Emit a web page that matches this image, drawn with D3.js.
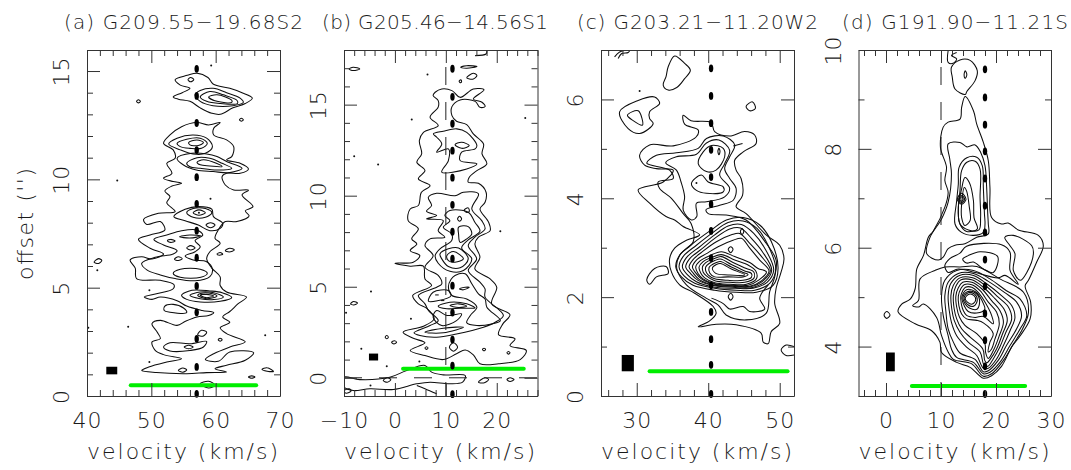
<!DOCTYPE html>
<html>
<head>
<meta charset="utf-8">
<script src="https://cdnjs.cloudflare.com/ajax/libs/d3/7.8.5/d3.min.js"></script>
<style>
  html, body { margin: 0; padding: 0; background: #fff; }
  svg { display: block; }
  text { font-family: "DejaVu Sans", sans-serif; font-weight: 200; fill: #1a1a1a; }
  .axis path, .axis line { stroke: #333; stroke-width: 1; }
  .contour { fill: none; stroke: #0d0d0d; stroke-width: 1.05; }
</style>
</head>
<body>
<div id="chart-area"></div>
<script>
// values: velocity (km/s), offset ('')
var titles = ['(a) G209.55\u221219.68S2', '(b) G205.46\u221214.56S1', '(c) G203.21\u221211.20W2', '(d) G191.90\u221211.21S'];
var xDomains = [[40, 70], [-10, 28], [25, 52], [-5, 30]];
var yDomains = [[0, 15.97], [-1, 18], [0, 7], [3, 10]];
var xMajor = [[40, 50, 60, 70], [-10, 0, 10, 20], [30, 40, 50], [0, 10, 20, 30]];
var xMinor = [
    [42, 44, 46, 48, 52, 54, 56, 58, 62, 64, 66, 68],
    [-8, -6, -4, -2, 2, 4, 6, 8, 12, 14, 16, 18, 22, 24, 26, 28],
    [26, 28, 32, 34, 36, 38, 42, 44, 46, 48, 52],
    [-4, -2, 2, 4, 6, 8, 12, 14, 16, 18, 22, 24, 26, 28]
];
var yMajor = [[0, 5, 10, 15], [0, 5, 10, 15], [0, 2, 4, 6], [4, 6, 8, 10]];
var yMinor = [
    [1, 2, 3, 4, 6, 7, 8, 9, 11, 12, 13, 14],
    [-1, 1, 2, 3, 4, 6, 7, 8, 9, 11, 12, 13, 14, 16, 17, 18],
    [1, 3, 5, 7],
    [3, 5, 7, 9]
];
// systemic velocity and the offsets of its heavy dashes
var markerVel = [57.05, 11.3, 40.4, 18];
var markerOffsetsA = [15.1, 13.85, 12.6, 11.35, 10.1, 8.87, 7.63, 6.38, 5.08, 3.86, 2.64, 1.34, 0.1];
var markerOffsetsB = [16.97, 15.43, 13.95, 12.47, 10.99, 9.5, 8.02, 6.54, 5.06, 3.58, 2.1, 0.67, -0.9];
var markerOffsetsC = [6.63, 6.07, 5.52, 4.98, 4.43, 3.88, 3.34, 2.79, 2.24, 1.7, 1.15, 0.63, 0.04];
var markerOffsetsD = [9.61, 9.04, 8.49, 7.95, 7.4, 6.85, 6.31, 5.76, 5.22, 4.67, 4.13, 3.6, 3.04];
// beam box: v0, v1, o0, o1 / green bar: v0, v1, o
var beams = [[43, 44.7, 1, 1.35], [-5.1, -3.3, 0.95, 1.33], [27.9, 29.6, 0.5, 0.83], [0, 1.6, 3.5, 3.88]];
var greenBars = [[46.8, 66.3, 0.5], [1.6, 25.3, 0.5], [31.8, 51.1, 0.5], [4.7, 25.3, 3.2]];
var refVel = [null, 10, null, 10];
var refOffset = [null, 0, null, null];

var contoursA = [
    [[53.7,14.6],[55.6,14.8],[57.1,14.9],[58.8,14.7],[59.6,14.4],[62.2,14.2],[64.1,14],[65.7,13.75],[64.6,13.5],[62.7,13.3],[60.7,13],[59.4,13.05],[57.6,13.3],[56,13.6],[54.2,13.7],[53.4,13.8],[54.8,14],[56,14.2],[54.5,14.35]],
    [[56.8,13.9],[57.6,14.1],[59.6,14.2],[61.7,14],[63.8,13.75],[64.3,13.55],[62.7,13.4],[59.6,13.4],[57.6,13.6]],
    [[57.6,13.8],[59.1,14.05],[61.2,13.9],[63.3,13.65],[63.4,13.5],[60.7,13.5],[58.6,13.6]],
    [[58.9,13.8],[60.2,13.9],[62.5,13.65],[62.5,13.55],[60.2,13.6]],
    [[55.7,14.6],[56.1,14.7],[56.6,14.6],[56.1,14.5]],
    [[47.7,13.6],[48,13.67],[48.3,13.6],[48,13.53]],
    [[63.7,12.75],[64,12.82],[64.3,12.75],[64,12.68]],
    // main envelope
    [[51.9,11.66],[52.9,12.05],[54.7,12.43],[57.1,12.62],[58.9,12.51],[60.7,12.62],[59.7,12.36],[59.7,12.05],[61.7,11.82],[62.8,11.51],[62.5,11.05],[61.7,10.9],[63.8,10.74],[65.1,10.48],[63.8,10.28],[61.7,10.28],[61,10.13],[61.5,9.74],[62.8,9.51],[65.1,9.5],[64.1,9.28],[65.8,8.74],[64.6,8.55],[65.2,8.31],[63.3,8.05],[61.5,8.05],[60.4,7.66],[59.9,7.28],[60.7,7.05],[59.1,6.66],[58.6,6.35],[59.4,5.9],[60.7,5.5],[60.7,5.1],[61.7,4.8],[64.8,4.57],[63.5,4.26],[62.2,3.9],[61.1,3.65],[62.2,3.4],[60.7,3.15],[61.7,2.88],[64.6,2.5],[62.2,2.26],[59.7,1.95],[58.4,1.69],[60.4,1.6],[62.2,2.03],[65.9,2],[64.6,1.65],[61.7,1.42],[59.9,1.26],[61.7,1.11],[58.6,1.08],[55.5,1.03],[50.8,1.08],[48.5,1.18],[49.6,1.34],[52.4,1.57],[54.7,1.72],[51.9,1.91],[50.6,2.11],[50.1,2.49],[51.4,2.65],[50.9,2.95],[50.1,3.34],[51.4,3.49],[54,3.26],[55.3,3.45],[57.1,3.65],[58.9,3.72],[59.7,3.85],[57.9,3.95],[55.5,4.15],[54,4.4],[51.4,4.57],[50.1,4.46],[48.9,4.57],[50.8,4.72],[53.4,4.95],[53.5,5.15],[51.4,5.34],[47.7,5.42],[47.5,5.9],[46.7,6.28],[48.5,6.43],[50.1,6.32],[51.9,6.55],[49.8,6.82],[48,7.23],[49.8,7.43],[52.1,7.66],[51.4,8.05],[49.3,7.92],[48.8,8.15],[51.1,8.43],[53.7,8.51],[52.4,8.92],[52.9,9.2],[52.1,9.46],[53.2,9.69],[54.7,9.82],[53.4,9.9],[51.9,10.05],[53.2,10.28],[52.4,10.74],[53.7,10.97],[53.4,11.36]],
    [[52.7,11.63],[54,11.9],[56.5,12.05],[58.6,11.9],[59.5,11.51],[58.4,11.2],[56.5,11.17],[54.5,11.36]],
    [[54,11.66],[55.5,11.85],[57.6,11.9],[58.7,11.66],[57.8,11.43],[56,11.43],[54.5,11.51]],
    [[55.8,11.7],[57.1,11.82],[58.1,11.7],[57.3,11.56],[56,11.59]],
    [[54,10.97],[56.3,11.2],[58.6,11.17],[60.2,11.05],[61.7,10.82],[64.1,10.51],[62.2,10.31],[59.6,10.36],[57,10.43],[55,10.66]],
    [[55.5,10.74],[57.1,11],[59.1,10.97],[61,10.74],[62.5,10.51],[60.2,10.43],[57.6,10.51],[56,10.58]],
    [[57.1,10.79],[58.1,10.9],[60.1,10.74],[61,10.59],[59.1,10.62],[57.6,10.67]],
    [[53.5,8.28],[55.25,8.62],[57.3,8.74],[59.4,8.62],[59.65,8.28],[61.1,7.97],[60.7,7.74],[59.1,7.63],[57.3,7.89],[55.25,8.09]],
    [[55.5,8.46],[56.5,8.65],[58.4,8.65],[59.4,8.46],[58.4,8.25],[56.5,8.25]],
    [[56.5,8.46],[57.4,8.59],[58.4,8.46],[57.4,8.34]],
    [[58.5,7.89],[59.2,8],[59.9,7.89],[59.2,7.77]],
    [[50.4,7.23],[52.4,7.43],[54.7,7.63],[57.1,7.66],[58,7.43],[56.8,7.17],[57.6,6.89],[56.8,6.66],[55.25,6.46],[56.5,6.28],[58.6,6.2],[59.5,5.85],[59.1,5.51],[56.8,5.32],[53.7,5.42],[51.4,5.59],[49.3,5.82],[48.5,6.12],[50.6,6.4],[53.4,6.55],[54,6.71],[51.9,6.97]],
    [[54.4,7.35],[56,7.43],[57.7,7.39],[56,7.29]],
    [[52.5,7.17],[53,7.23],[53.7,7.15],[53,7.09]],
    [[55.5,6.83],[56.1,6.94],[56.8,6.83],[56.1,6.74]],
    [[53.6,6.31],[54.2,6.43],[54.8,6.34],[54.2,6.25]],
    [[53.4,5.66],[54.5,5.85],[57.6,5.85],[58.7,5.66],[57.7,5.48],[54.5,5.48]],
    [[60.2,6.55],[60.7,6.62],[61.1,6.55],[60.6,6.5]],
    [[61.5,6.71],[62.2,6.82],[62.9,6.74],[62.1,6.65]],
    [[54.7,4.65],[56.3,4.88],[59.1,4.85],[61,4.77],[62.5,4.54],[60.7,4.37],[57.6,4.34],[55.5,4.46]],
    [[56,4.65],[57.6,4.8],[59.7,4.77],[61.2,4.57],[59.7,4.45],[57.6,4.49]],
    [[57.2,4.65],[58.4,4.77],[60.2,4.62],[58.6,4.49]],
    [[57.6,4.65],[58.6,4.69],[59.7,4.62],[58.5,4.54]],
    [[52.1,4.15],[53.4,4.23],[55,4.06],[55.5,3.85],[52.9,3.87],[52,3.95]],
    [[51.9,2.26],[52.9,2.46],[56,2.41],[58.6,2.52],[58.1,2.26],[56,2.1],[52.9,2.08]],
    [[55.1,2.26],[55.8,2.34],[56.5,2.26],[55.8,2.18]],
    [[57.2,2.83],[57.8,3.03],[58.6,2.95],[58.1,2.77]],
    [[60.4,2.6],[60.7,2.67],[61,2.6],[60.7,2.53]],
    [[41.1,6.18],[41.8,6.34],[42.3,6.26],[41.8,6.12]],
    [[65.1,0.88],[65.6,0.93],[66.1,0.88],[65.6,0.82]],
    [[67.2,1.23],[68,1.3],[69,1.14],[68,1.14]],
    [[54.2,1.18],[54.9,1.29],[55.5,1.2],[54.9,1.1]],
    [[57.6,0.57],[58.9,0.68],[59.9,0.5],[58.9,0.37]]
];
var openA = [];
var specksA = [[59.3,15.25],[44.7,9.95],[59.2,9.1],[57.4,8.46],[41.6,5.8],[49.7,4.88],[49.7,1.57],[46.4,3.2],[40.2,3.15],[67.7,2.8]];

var contoursB = [
    [[7.9,15.68],[9.2,15.86],[11.2,15.77],[12.8,15.4],[15.4,15.86],[17.5,15.81],[15.4,15.31],[17.1,15.13],[17.7,14.89],[16.7,14.85],[15.75,15.18],[12.8,15.26],[11.2,14.89],[11.2,14.4],[12.1,14.09],[14.1,13.9],[15.4,13.39],[17.4,12.84],[17.1,12.3],[18.05,11.75],[16.1,11.38],[14.6,11.01],[14.4,10.74],[16.4,10.68],[17.9,10.19],[17.7,9.64],[16.7,9.27],[18.4,8.54],[18.7,8.08],[16.4,7.72],[15.7,7.35],[16.7,6.62],[15.7,5.98],[18.7,5.43],[20,4.97],[19,4.06],[22.6,3.46],[21.2,2.96],[20.35,2.36],[23.6,2.14],[22.6,1.77],[25.8,1.5],[24.6,1],[20.35,0.77],[16.7,0.77],[15.4,1.26],[13.8,1.53],[12.1,1.32],[9.5,1],[5.9,1.22],[3,1.5],[5.9,1.92],[3.6,2.17],[1.6,2.5],[5.6,2.83],[7.7,3.24],[6.2,3.82],[4.6,4.06],[3.5,4.52],[7.2,5.07],[5.9,5.43],[5.6,6.13],[3,6.13],[0,6.29],[3.6,6.35],[4.9,6.71],[3,6.99],[4.3,7.35],[3.3,7.63],[4.6,8.18],[2.6,8.63],[3,9.27],[4.6,9.46],[5.2,10.19],[6.9,10.55],[4.6,10.92],[5.9,11.38],[4.3,11.84],[5.25,12.3],[4.8,13.03],[5.6,13.48],[8.5,13.85],[6.9,14.31],[8.5,14.86],[8.5,15.22],[7.5,15.5]],
    [[7.55,13.39],[9.5,13.54],[12.15,13.67],[14.1,13.48],[16.1,12.75],[15.75,12.57],[13.1,12.39],[12.8,11.93],[16.1,11.75],[14.1,11.47],[9.2,11.29],[10.5,11.93],[10.5,12.57],[8.2,12.39],[9.2,12.84],[8.2,13.21]],
    [[11.8,12.8],[13.1,12.93],[14.6,12.75],[13.1,12.6]],
    [[14.1,16.47],[15.4,16.72],[16.1,16.6],[15.4,16.41]],
    [[12.6,16.28],[12.9,16.36],[13.1,16.28],[12.9,16.2]],
    [[12.9,17.05],[14.1,17.14],[16.1,17.09],[14.1,17]],
    [[-9,16.96],[-8.2,17.05],[-6.9,16.96],[-8.2,16.87]],
    [[6.56,9.91],[8.2,10.13],[11.8,10],[13.45,10.19],[16.4,10.1],[15.1,9.27],[17.05,8.63],[17.7,8.18],[15.7,7.72],[14.4,7.26],[16.05,6.53],[14.4,5.89],[16.7,5.25],[17.7,4.88],[17.7,4.43],[21.3,3.42],[19.7,3.05],[17.4,2.78],[12.1,2.41],[8.2,2.23],[4.9,2.32],[3.75,2.47],[6.9,2.87],[8.5,3.14],[6.6,3.69],[5.9,4.06],[4.6,4.52],[8.2,4.97],[9.2,5.16],[8.5,5.62],[5.9,6.07],[7.5,6.71],[5.9,7.26],[6.9,7.63],[9.8,7.72],[8.5,8.08],[9.5,8.63],[6.2,8.72],[8.2,8.91],[6.2,9.15],[7.2,9.46]],
    [[9.8,8.91],[10.8,9.18],[14.4,9.09],[15.7,8.54],[16.7,8.05],[14.4,7.57],[13.1,7.13],[15.1,6.53],[13.45,5.89],[10.8,5.85],[8.5,6.29],[7.9,6.71],[8.85,7.08],[11.15,7.54],[11.15,7.9],[9.5,8.27],[10.8,8.63]],
    [[8.85,6.8],[10.5,7.08],[12.5,7.13],[14.4,6.53],[12.8,6.04],[10.5,6.11],[9.2,6.53]],
    [[10.2,6.71],[11.5,6.93],[13.45,6.53],[11.8,6.35],[10.5,6.44]],
    [[12.5,8.27],[14.4,8.3],[15.1,7.9],[14.1,7.63],[12.8,7.44],[12.5,7.9]],
    [[12.3,8.72],[12.7,8.87],[13.1,8.72],[12.7,8.6]],
    [[13.6,9.22],[14.4,9.33],[14.6,9.13],[14,9.09]],
    [[11.8,5.62],[13.8,5.71],[15.1,5.16],[16.4,4.61],[17.7,4.33],[18.05,3.88],[20.7,3.14],[19,2.96],[16.1,2.87],[14.1,3.02],[14.8,3.42],[16.1,3.88],[14.1,4.33],[11.2,4.52],[10.5,5],[11,5.4]],
    [[5.9,2.5],[9.5,2.72],[13.5,2.78],[9.5,2.47]],
    [[6.6,4.2],[7.5,4.7],[10.5,4.79],[11,4.5],[8.5,4.24]],
    [[8.5,3.93],[10.8,4.15],[14.1,4.06],[15.75,3.84],[12.8,3.82],[10.2,3.79]],
    [[10.8,3.97],[12.5,4.06],[14.1,3.93],[12.5,3.86]],
    [[12.7,4.88],[13.8,4.97],[14.6,4.97],[13.45,4.83]],
    [[8.2,3.69],[10.2,3.42],[13.1,3.51],[12.1,3.14],[9.2,2.87],[7.5,3.33]],
    [[10.7,1.68],[11.5,1.92],[12.3,1.68],[11.5,1.46]],
    [[5.9,1.63],[6.2,1.7],[6.5,1.63],[6.2,1.56]],
    [[17.2,1.55],[17.5,1.62],[17.8,1.55],[17.5,1.48]],
    [[22,1.37],[22.3,1.44],[22.6,1.37],[22.3,1.3]],
    [[16.4,-0.24],[17.7,0],[18.4,-0.1],[17.4,-0.28]],
    [[22,-0.1],[22.6,0],[23.4,-0.1],[22.6,-0.2]],
    [[-2.3,-0.15],[-1.5,0],[-0.8,-0.1],[-1.5,-0.24]],
    [[-0.65,1.95],[-0.1,2.03],[0.33,1.95],[-0.2,1.86]],
    [[-1.9,2.23],[-1.6,2.32],[-1.3,2.23],[-1.6,2.14]],
    [[-8.7,4.06],[-8.1,4.19],[-7.35,4.1],[-8.1,4]],
    [[-10,0.03],[-6.9,-0.1],[-1,0.03],[2.3,0.4],[5.9,0.68],[7.2,0.31],[9.5,0.16],[13.8,0.13],[13.3,-0.24],[10.8,-0.33],[6.9,-0.24],[4.3,-0.33],[-0.3,-0.64],[-4.9,-0.6],[-8.2,-0.7],[-10,-0.5]],
    [[-10,-0.72],[-9,-0.6],[-8.6,-0.72],[-9.6,-0.85]]
];
var openB = [
    [[15.75,17.69],[17.9,17.78],[18.05,17.97]],
    [[4.3,-0.42],[5.9,-0.6],[8.2,-0.88]],
    [[7.9,4.55],[8.6,4.55]],
    [[9,4.24],[9.7,4.24]]
];
var specksB = [[6.4,16.65],[3.3,14.18],[-8,12.17],[-3.3,11.71],[25.6,14.27],[20.7,8.05],[-4.7,4.74],[-9.6,3.57],[3.15,3.24],[-6.6,1.59],[-1.6,0.64],[4.8,0.9],[-4.8,-0.42]];

var contoursC = [
    [[34.4,6.66],[35.3,6.88],[36.7,6.73],[37.5,6.59],[36.7,6.42],[35.6,6.24],[34.4,6.19],[33.7,6.29],[34.1,6.46]],
    [[27.6,5.75],[30.2,5.98],[32.5,6.05],[33.2,5.92],[31.8,5.75],[31.8,5.61],[32.3,5.51],[30.4,5.31],[28.8,5.41]],
    [[28.7,5.68],[30.2,5.77],[30.8,5.48],[29.5,5.57]],
    [[45.3,5.86],[46.2,5.95],[46.6,5.82],[45.8,5.77]],
    // outer envelope
    [[36.5,5.68],[37.6,5.57],[40.4,5.53],[40.9,5.35],[43,5.26],[45.1,5.35],[46.5,5.28],[46.7,5.11],[44.9,4.94],[43.7,4.77],[43.9,4.57],[44.6,4.4],[44.8,4.06],[43.9,3.83],[45.3,3.69],[48.1,3.26],[50,3.05],[50.6,2.78],[50.2,2.51],[49.5,2.18],[49.3,1.87],[50,1.47],[48.8,1.3],[48.4,1.06],[47.7,1.09],[47.4,1.27],[43.9,1.44],[41.1,1.45],[38.6,1.4],[40.2,1.52],[41.1,1.67],[40.7,1.81],[38.1,2.08],[36,2.25],[34.85,2.51],[34.6,2.78],[35.3,2.99],[36.95,3.15],[38.8,3.26],[36.5,3.43],[35.3,3.56],[34.1,3.63],[31.8,3.9],[30.2,4.17],[33.7,4.33],[35.1,4.57],[32.75,4.6],[31.1,4.67],[30.4,4.87],[31.8,5.08],[35.1,5.06],[38.3,5.24],[38.6,5.38],[36.7,5.5]],
    [[31.4,4.71],[32.75,4.87],[35.55,4.92],[38.6,5.01],[39.75,5.21],[42.1,5.26],[43.7,5.08],[43,4.84],[42.3,4.6],[43,4.4],[43.9,4.2],[43.5,3.96],[41.6,3.86],[39.7,3.77],[40,3.69],[42.5,3.66],[45.3,3.56],[48.1,3.09],[49.5,2.75],[49.3,2.41],[48.6,2.11],[48.1,1.67],[45.3,1.54],[42.5,1.64],[41.4,1.84],[39.7,1.98],[36.95,2.25],[35.6,2.58],[36,2.85],[37.9,3.12],[37.6,3.49],[36.5,3.69],[34.85,4],[33.2,4.2],[33,4.33],[35.1,4.4],[34.6,4.57]],
    [[34.05,4.72],[35.55,4.84],[38.35,4.89],[39.75,5.12],[41.5,5.18],[43,4.97],[42.3,4.7],[41.6,4.47],[43,4.2],[42.3,4.03],[39.75,3.93],[38.35,3.9],[38.4,3.63],[37.65,3.56],[36.5,3.76],[36.7,4.03],[36.2,4.33],[35.55,4.57]],
    [[38.6,4.7],[39.3,4.94],[40.45,5.07],[42.1,5.01],[42.3,4.84],[41.1,4.57],[39.75,4.54]],
    [[37.65,4.3],[39.05,4.47],[40,4.33],[42.1,4.23],[42.1,4.13],[39.75,4.1],[38.35,4.16]],
    [[41.35,4.95],[41.5,5.01],[41.65,4.95],[41.5,4.88]],
    [[31.4,2.35],[32.5,2.58],[34.1,2.62],[34.4,2.48],[32.75,2.41],[31.8,2.26]],
    // nested rings of the core
    [[35.46,2.61],[36.02,2.85],[37.88,3.09],[40.44,3.36],[42.54,3.56],[44.87,3.61],[47.2,3.46],[48.84,3.12],[49.77,2.58],[49.07,2.24],[46.74,2.1],[43.94,2.1],[40.91,2.14],[37.88,2.24],[36.25,2.41]],
    [[35.92,2.61],[36.48,2.82],[38.35,3.05],[40.68,3.31],[42.78,3.51],[44.87,3.54],[46.83,3.39],[48.37,3.05],[49.44,2.57],[48.6,2.28],[46.5,2.14],[43.94,2.14],[40.91,2.18],[38.11,2.28],[36.62,2.43]],
    [[36.39,2.61],[36.95,2.8],[38.81,3.02],[40.91,3.26],[42.78,3.44],[44.64,3.47],[46.37,3.29],[47.9,2.99],[49.16,2.55],[48.23,2.3],[46.27,2.18],[43.71,2.18],[40.91,2.2],[38.35,2.31],[37.04,2.46]],
    [[36.85,2.61],[37.41,2.78],[39.05,2.97],[40.91,3.19],[43.01,3.38],[44.5,3.4],[46.04,3.19],[47.58,2.92],[48.88,2.55],[47.9,2.31],[46.04,2.19],[43.47,2.2],[40.91,2.23],[38.58,2.34],[37.51,2.48]],
    [[37.32,2.61],[37.88,2.76],[39.28,2.93],[41.14,3.12],[43.24,3.26],[44.4,3.29],[45.81,3.09],[47.3,2.85],[48.7,2.54],[47.67,2.33],[45.9,2.21],[43.38,2.22],[40.91,2.24],[38.81,2.35],[37.88,2.49]],
    [[37.79,2.61],[38.35,2.75],[39.75,2.88],[41.38,3.02],[43.47,3.15],[44.64,3.19],[45.81,2.99],[47.2,2.75],[48.51,2.53],[47.44,2.33],[45.81,2.22],[43.24,2.23],[40.91,2.26],[39.05,2.37],[38.25,2.49]],
    [[38.25,2.61],[38.81,2.73],[40.21,2.84],[41.84,2.92],[43.71,2.82],[45.81,2.7],[46.97,2.58],[48.14,2.51],[47.11,2.35],[45.57,2.24],[43.24,2.24],[40.91,2.27],[39.28,2.37],[38.58,2.48]],
    [[38.72,2.61],[39.28,2.72],[40.44,2.8],[41.84,2.86],[43.71,2.75],[45.57,2.65],[46.65,2.53],[46.74,2.37],[45.34,2.26],[43.01,2.26],[40.91,2.29],[39.51,2.39],[38.95,2.49]],
    [[39.19,2.61],[39.65,2.7],[40.68,2.77],[41.84,2.82],[43.47,2.7],[45.34,2.58],[46.37,2.51],[46.37,2.38],[45.11,2.3],[43.01,2.3],[40.91,2.33],[39.75,2.43],[39.28,2.51]],
    [[39.65,2.61],[40.12,2.68],[40.91,2.74],[41.7,2.77],[43.24,2.66],[45.11,2.53],[46.04,2.48],[46.04,2.4],[44.87,2.34],[42.78,2.34],[40.91,2.37],[39.98,2.45],[39.65,2.53]],
    [[40.12,2.6],[40.58,2.66],[41.14,2.7],[41.7,2.72],[43.24,2.61],[44.87,2.5],[45.57,2.46],[44.87,2.41],[42.78,2.41],[40.91,2.41],[40.21,2.49]],
    [[40.58,2.59],[41.14,2.66],[41.7,2.68],[43.24,2.57],[45.11,2.45],[42.78,2.45],[41.05,2.48]],
    [[42.8,2.97],[43.15,3.02],[43.47,2.97],[43.15,2.9]],
    [[42.8,2.01],[43.15,2.08],[43.47,2.01],[43.15,1.94]],
    [[44.5,3.32],[44.74,3.39],[44.97,3.32],[44.74,3.27]]
];
var openC = [
    [[26.9,6.86],[27.6,6.96],[29,7],[28.8,6.95],[27.9,6.93],[27.4,6.83]],
    [[43.5,5.06],[44.8,5.11]],
    [[40.45,1.98],[42.1,1.87],[43,1.76],[44.9,1.81],[45.8,1.71],[47.9,1.76],[47.2,1.98],[48.4,2.25]],
    [[52,1],[50.9,1.03],[50.2,0.93],[50.9,0.82],[52,0.83]]
];
var specksC = [[30.4,6.17],[38.35,4.31]];

var contoursD = [
    [[11.9,9.65],[13.45,9.8],[15.3,9.79],[16.6,9.58],[16.2,9.38],[14.7,9.16],[14.4,9.1],[12.55,9.21],[12.05,9.45]],
    [[14.2,9.5],[14.4,9.58],[14.7,9.5],[14.4,9.43]],
    // outer envelope
    [[14.4,9.06],[15.9,8.77],[16.5,8.5],[17.7,8.13],[18.6,7.76],[18.9,7.22],[19.2,6.61],[21,6.48],[22.2,6.5],[24.05,6.36],[27.7,6.25],[28.6,6.04],[27.4,5.71],[25.9,5.34],[25.3,5.23],[26.3,4.9],[26.2,4.56],[24.4,4.22],[22.85,3.99],[21,3.6],[19.2,3.41],[17.7,3.36],[15.3,3.58],[12.85,3.68],[10.1,3.88],[9.8,4.09],[8.3,4.32],[5.3,4.46],[2.2,4.7],[2.85,4.86],[4.4,4.96],[5.3,5.17],[5.6,5.57],[6.8,5.84],[7.7,6.21],[8.6,6.34],[10.7,6.82],[11.3,7.12],[10.7,7.36],[11,7.63],[9.9,8.03],[10.4,8.44],[11.3,8.54],[13.45,8.6],[13.75,8.84]],
    [[11.3,8.1],[13.45,8.13],[14.7,8.04],[16.2,8.08],[17.2,7.93],[18,7.66],[18.3,7.22],[18.5,6.68],[18.6,6.48],[18.6,6.28],[16.5,6.21],[14.35,6.08],[12.55,6.05],[11.3,5.98],[10.4,5.81],[9.5,5.75],[7.4,5.88],[8,6.21],[10.1,6.58],[11.3,6.92],[11.9,7.49],[11.6,7.79]],
    [[13.3,7.63],[14.7,7.82],[16.5,7.83],[17.5,7.66],[17.7,7.22],[17.9,6.68],[18,6.48],[17.7,6.31],[15.9,6.25],[13.75,6.31],[12.55,6.48],[12.85,6.95],[13.15,7.29]],
    [[13.75,7.56],[14.7,7.73],[16.2,7.75],[17.1,7.59],[17.1,7.02],[17.2,6.61],[16.9,6.36],[15,6.36],[13.45,6.48],[13.15,6.75],[13.45,7.15]],
    [[13.15,6.82],[13.75,7.19],[14.35,7.42],[15.15,7.32],[15.9,6.95],[16,6.61],[16.6,6.38],[14.65,6.33],[13.45,6.48]],
    [[13.75,6.88],[14.25,7.22],[14.65,7.15],[15.15,6.82],[15.3,6.55],[14.35,6.45],[13.75,6.61]],
    [[12.95,6.98],[13.75,7.1],[14.55,6.98],[13.75,6.88]],
    [[13.2,6.98],[13.75,7.06],[14.3,6.98],[13.75,6.91]],
    [[13.45,6.98],[13.75,7.03],[14.05,6.98],[13.75,6.94]],
    [[21.6,6.21],[23.15,6.25],[26.5,6.04],[26.8,5.88],[25.6,5.5],[24.4,5.34],[23.15,5.54],[23.45,5.88],[22.55,6.04]],
    [[10.7,5.64],[11.6,5.78],[13.45,5.89],[14.65,6.03],[21,6.06],[22.55,5.91],[22.55,5.54],[24.05,5.26],[21.65,5.44],[20.4,5.39],[16.2,5.5],[13.15,5.57],[11.3,5.5]],
    [[13.95,5.77],[14.95,5.84],[17.1,5.92],[20.3,5.82],[19.5,5.5],[17.7,5.57],[15.9,5.71],[14.65,5.69]],
    [[-0.35,4.64],[0.12,4.71],[0.73,4.64],[0.12,4.57]],
    [[4.85,4.83],[5.9,4.93],[6.2,5.37],[8.9,5.54],[10.7,5.61],[13.45,5.61],[16.5,5.62],[20.7,5.37],[25,5.1],[25.9,4.69],[24.65,4.32],[23.15,4.05],[21.35,3.72],[19.2,3.45],[17.7,3.4],[15.6,3.65],[12.25,3.74],[11.3,3.89],[10.1,4.22],[9.2,4.59],[6.8,4.86],[5.9,4.8]],
    // nested rings of the core
    [[10.1,5.03],[10.7,5.34],[12.85,5.54],[15.9,5.54],[18.9,5.37],[21.9,5.13],[24.4,4.96],[25.6,4.63],[24.4,4.36],[22.55,4.02],[20.7,3.68],[18.9,3.48],[17.7,3.45],[15.9,3.68],[12.85,3.78],[11.9,3.95],[11.3,4.22],[10.4,4.63]],
    [[10.7,5.03],[11.3,5.3],[13.15,5.48],[15.9,5.48],[18.6,5.32],[21.6,5.09],[23.75,4.9],[24.65,4.63],[23.75,4.36],[21.9,4.02],[20.4,3.72],[18.6,3.51],[17.7,3.49],[16.2,3.74],[13.45,3.87],[12.25,4.09],[11.3,4.36],[10.9,4.7]],
    [[11.3,5.03],[11.75,5.27],[13.35,5.44],[15.9,5.44],[18.3,5.27],[21,5.03],[22.85,4.83],[23.45,4.59],[22.55,4.32],[21.35,4.02],[20.1,3.75],[18.6,3.56],[17.7,3.56],[16.5,3.82],[14.65,3.99],[12.85,4.22],[11.9,4.49],[11.5,4.73]],
    [[11.8,5.03],[12.25,5.24],[13.45,5.39],[15.75,5.39],[18,5.24],[20.4,5],[22.25,4.8],[22.85,4.56],[21.8,4.29],[20.7,3.99],[19.5,3.75],[18.5,3.6],[17.8,3.63],[17.1,3.89],[14.95,4.09],[13.45,4.29],[12.4,4.53],[12,4.73]],
    [[12.25,5.03],[12.7,5.22],[13.65,5.35],[15.6,5.35],[17.7,5.2],[19.8,4.97],[21.45,4.76],[22.05,4.53],[21.2,4.26],[20.1,3.95],[19,3.75],[18.3,3.67],[17.95,3.72],[17.6,3.95],[15.3,4.19],[13.75,4.36],[12.85,4.56],[12.4,4.76]],
    [[12.7,5.02],[13.15,5.19],[13.95,5.3],[15.6,5.3],[17.4,5.17],[19.2,4.93],[20.7,4.73],[21.35,4.49],[20.6,4.22],[19.65,3.95],[18.6,3.76],[18.1,3.89],[18,4.05],[16.5,4.26],[14.35,4.43],[13.35,4.6],[12.85,4.8]],
    [[13.15,5.02],[13.6,5.17],[14.2,5.25],[15.6,5.25],[17.1,5.13],[18.6,4.9],[20.1,4.7],[20.6,4.46],[19.8,4.15],[19.2,3.95],[18.6,3.89],[18.9,4.09],[19.5,4.26],[17.7,4.48],[16.5,4.53],[14.65,4.56],[13.75,4.66],[13.25,4.83]],
    [[13.6,5.02],[13.95,5.13],[14.45,5.2],[15.6,5.2],[16.8,5.09],[18.2,4.86],[19.2,4.63],[19.5,4.46],[17.7,4.61],[16.2,4.59],[14.65,4.63],[14.05,4.73],[13.7,4.86]],
    [[13.8,5],[14.65,5.15],[16.25,5.11],[17.45,4.93],[17.95,4.75],[16.5,4.68],[14.95,4.71],[14.25,4.82]],
    [[14,5],[14.8,5.11],[16.2,5.09],[17,4.95],[16.6,4.76],[15.15,4.78],[14.4,4.86]],
    [[14.2,4.99],[14.95,5.09],[16.1,5.06],[16.6,4.94],[16,4.82],[14.95,4.84]],
    [[14.4,4.98],[15.1,5.06],[16,5.03],[16.3,4.94],[15.7,4.86],[14.8,4.9]]
];
var openD = [
    [[11.3,9.99],[11.3,9.75],[12.2,9.73],[12.85,9.82],[11.9,9.89],[12.85,9.95]]
];
var specksD = [];

var allMarkers = [markerOffsetsA, markerOffsetsB, markerOffsetsC, markerOffsetsD];
var allContours = [contoursA, contoursB, contoursC, contoursD];
var allOpen = [openA, openB, openC, openD];
var allSpecks = [specksA, specksB, specksC, specksD];

// layout
var W = 1071, H = 470;
var plotTop = 50, plotBottom = 396;
var lefts = [87, 344, 601, 858.5], rights = [280, 537.5, 794, 1051];
var titleX = [64, 322, 577, 842], titleW = [239, 226, 241, 226];

var svg = d3.select('#chart-area').append('svg')
    .attr('width', W)
    .attr('height', H);

var closedLine = d3.line().curve(d3.curveCatmullRomClosed.alpha(0.5));
var openLine = d3.line().curve(d3.curveCatmullRom.alpha(0.5));

titles.forEach(function(title, i) {
    var x = d3.scaleLinear().domain(xDomains[i]).range([lefts[i], rights[i]]);
    var y = d3.scaleLinear().domain(yDomains[i]).range([plotBottom, plotTop]);
    var g = svg.append('g');
    var toPx = function(p) { return [x(p[0]), y(p[1])]; };

    g.append('clipPath').attr('id', 'clip' + i).append('rect')
        .attr('x', lefts[i]).attr('y', plotTop)
        .attr('width', rights[i] - lefts[i]).attr('height', plotBottom - plotTop);

    var plot = g.append('g').attr('clip-path', 'url(#clip' + i + ')');

    // contours
    plot.selectAll('path.closed').data(allContours[i]).enter().append('path')
        .attr('class', 'contour closed')
        .attr('d', function(d) { return closedLine(d.map(toPx)); });
    plot.selectAll('path.open').data(allOpen[i]).enter().append('path')
        .attr('class', 'contour open')
        .attr('d', function(d) { return openLine(d.map(toPx)); });
    plot.selectAll('circle').data(allSpecks[i]).enter().append('circle')
        .attr('cx', function(d) { return x(d[0]); })
        .attr('cy', function(d) { return y(d[1]); })
        .attr('r', 1)
        .attr('fill', '#111');

    // thin long-dashed reference lines
    if (refVel[i] !== null) {
        plot.append('line')
            .attr('x1', x(refVel[i])).attr('x2', x(refVel[i]))
            .attr('y1', plotTop).attr('y2', plotBottom)
            .attr('stroke', '#222').attr('stroke-width', 1)
            .attr('stroke-dasharray', '18 17').attr('stroke-dashoffset', 18);
    }
    if (refOffset[i] !== null) {
        plot.append('line')
            .attr('x1', lefts[i]).attr('x2', rights[i])
            .attr('y1', y(refOffset[i])).attr('y2', y(refOffset[i]))
            .attr('stroke', '#222').attr('stroke-width', 1)
            .attr('stroke-dasharray', '18 17');
    }

    // beam box
    g.append('rect')
        .attr('x', x(beams[i][0]))
        .attr('y', y(beams[i][3]))
        .attr('width', x(beams[i][1]) - x(beams[i][0]))
        .attr('height', y(beams[i][2]) - y(beams[i][3]))
        .attr('fill', '#000');

    // green velocity-range bar
    g.append('line')
        .attr('x1', x(greenBars[i][0])).attr('x2', x(greenBars[i][1]))
        .attr('y1', y(greenBars[i][2])).attr('y2', y(greenBars[i][2]))
        .attr('stroke', '#00ee00').attr('stroke-width', 4)
        .attr('stroke-linecap', 'round');

    // heavy dashes
    g.selectAll('ellipse').data(allMarkers[i]).enter().append('ellipse')
        .attr('cx', x(markerVel[i]))
        .attr('cy', function(d) { return y(d); })
        .attr('rx', 2.2)
        .attr('ry', 3.9)
        .attr('fill', '#000');

    // axes: major ticks carry the frame, minor ticks have no domain
    var minorOpts = function(a) { return a.tickSize(-6).tickSizeOuter(0).tickFormat(''); };
    var majorOpts = function(a) { return a.tickSize(-13).tickSizeOuter(0); };

    g.append('g').attr('class', 'axis').attr('transform', 'translate(0,' + plotBottom + ')')
        .call(minorOpts(d3.axisBottom(x).tickValues(xMinor[i])))
        .call(function(s) { s.select('.domain').remove(); });
    g.append('g').attr('class', 'axis').attr('transform', 'translate(0,' + plotTop + ')')
        .call(minorOpts(d3.axisTop(x).tickValues(xMinor[i])))
        .call(function(s) { s.select('.domain').remove(); });
    g.append('g').attr('class', 'axis').attr('transform', 'translate(' + lefts[i] + ',0)')
        .call(minorOpts(d3.axisLeft(y).tickValues(yMinor[i])))
        .call(function(s) { s.select('.domain').remove(); });
    g.append('g').attr('class', 'axis').attr('transform', 'translate(' + rights[i] + ',0)')
        .call(minorOpts(d3.axisRight(y).tickValues(yMinor[i])))
        .call(function(s) { s.select('.domain').remove(); });

    g.append('g').attr('class', 'axis').attr('transform', 'translate(0,' + plotTop + ')')
        .call(majorOpts(d3.axisTop(x).tickValues(xMajor[i])).tickFormat(''));
    g.append('g').attr('class', 'axis frame-right').attr('transform', 'translate(' + rights[i] + ',0)')
        .call(majorOpts(d3.axisRight(y).tickValues(yMajor[i])).tickFormat(''));

    g.append('g').attr('class', 'axis').attr('transform', 'translate(0,' + plotBottom + ')')
        .call(majorOpts(d3.axisBottom(x).tickValues(xMajor[i]))
            .tickPadding(16)
            .tickFormat(function(d) { return d < 0 ? '\u2212' + (-d) : d; }))
        .call(function(s) {
            s.selectAll('text').style('font-size', '22px').style('letter-spacing', '1px');
        });

    g.append('g').attr('class', 'axis').attr('transform', 'translate(' + lefts[i] + ',0)')
        .call(majorOpts(d3.axisLeft(y).tickValues(yMajor[i])).tickFormat(function(d) { return d; }))
        .call(function(s) {
            s.selectAll('text')
                .attr('transform', 'rotate(-90)')
                .attr('x', 0).attr('y', -18).attr('dy', 0)
                .attr('text-anchor', 'middle')
                .style('font-size', '22px').style('letter-spacing', '1px');
        });

    // title and x label
    g.append('text')
        .attr('x', titleX[i]).attr('y', 29)
        .attr('textLength', titleW[i]).attr('lengthAdjust', 'spacing')
        .style('font-size', '20px')
        .text(title);

    g.append('text')
        .attr('x', lefts[i]).attr('y', 459)
        .attr('textLength', 191).attr('lengthAdjust', 'spacing')
        .style('font-size', '22px')
        .text('velocity (km/s)');
});

// y label only on the first panel
svg.append('text')
    .attr('transform', 'translate(33,224) rotate(-90)')
    .attr('text-anchor', 'middle')
    .attr('textLength', 112).attr('lengthAdjust', 'spacing')
    .style('font-size', '22px')
    .text("offset ('')");
</script>
</body>
</html>
